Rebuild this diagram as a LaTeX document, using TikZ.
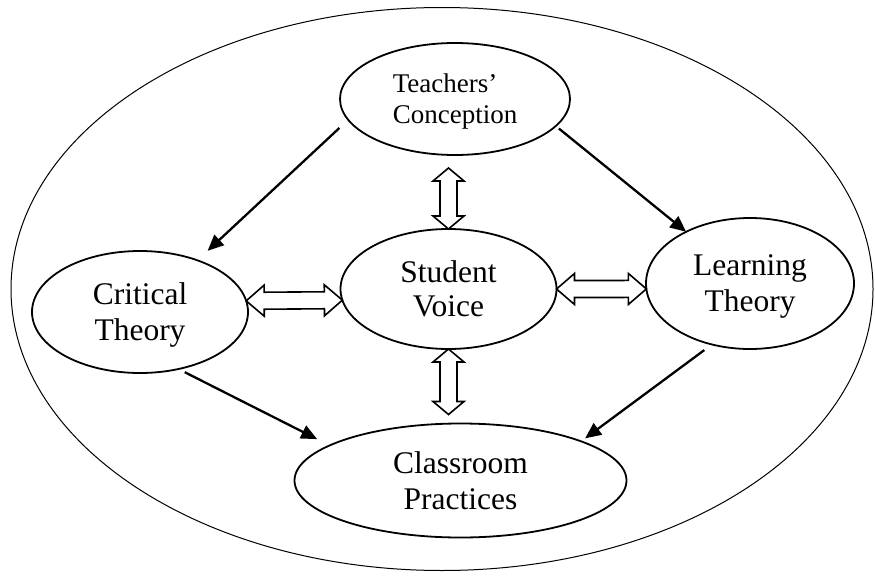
\documentclass[tikz,border=0pt]{standalone}
\usepackage{fontspec}
\setmainfont{Liberation Serif}
\usetikzlibrary{shapes.geometric,arrows.meta,calc}

\tikzset{
  bubble/.style 2 args={ellipse, draw, line width=1.8pt, inner sep=0pt, outer sep=0pt,
    minimum width=#1, minimum height=#2, align=center, text depth=0pt,
    font=\fontsize{31.5}{36}\selectfont},
  flow/.style={-{Triangle[length=16pt,width=14pt]}, line width=2.3pt},
  hollow/.style={draw, line width=1.6pt, fill=white, line join=miter},
}

% Hollow two-headed block arrow from #2 to #3; #1 is the head length
\newcommand\twowayarrow[3][18pt]{%
  \draw[hollow] let \p1=(#2), \p2=(#3),
      \n1={veclen(\x2-\x1,\y2-\y1)}, \n2={atan2(\y2-\y1,\x2-\x1)} in
    [shift={(\x1,\y1)}, rotate=\n2]
    (0pt,0pt) -- (#1,15.5pt) -- (#1,8.5pt) -- ({\n1-#1},8.5pt) -- ({\n1-#1},15.5pt)
    -- (\n1,0pt) -- ({\n1-#1},-15.5pt) -- ({\n1-#1},-8.5pt) -- (#1,-8.5pt)
    -- (#1,-15.5pt) -- cycle;
}

\begin{document}
\begin{tikzpicture}[x=1pt, y=-1pt]
  \useasboundingbox (0,0) rectangle (875,578);

  % surrounding frame
  \node[ellipse, draw, line width=1pt, inner sep=0pt, outer sep=0pt,
        minimum width=862pt, minimum height=563pt] (frame) at (442,289) {};

  % concepts
  \node[bubble={230pt}{112pt}, align=left, font=\fontsize{27}{31}\selectfont]
       (tc) at (455,99) {Teachers'\\Conception};
  \node[bubble={216pt}{122pt}] (ct) at (140,312) {Critical\\Theory};
  \node[bubble={216pt}{120pt}, font=\fontsize{31.5}{34}\selectfont]
       (sv) at (448.5,289) {Student\\Voice};
  \node[bubble={208pt}{131pt}] (lt) at (750,283.5) {Learning\\Theory};
  \node[bubble={332pt}{114pt}] (cp) at (460.5,480.5) {Classroom\\Practices};

  % one-way influences
  \draw[flow, shorten <=12pt, shorten >=14pt] (tc.191) -- (ct.42);
  \draw[flow, shorten <=4pt] (tc.345) -- (lt.141);
  \draw[flow, shorten <=7pt, shorten >=14pt] (ct.304) -- (cp.165);
  \draw[flow, shorten <=9.5pt, shorten >=5pt] (lt.238) -- (cp.18);

  % two-way exchanges with student voice
  \twowayarrow[13pt]{$(sv.north |- tc.south)+(0,13)$}{sv.north}
  \twowayarrow[13pt]{sv.south}{$(sv.south |- cp.north)+(0,-9)$}
  \twowayarrow{ct.6}{sv.186}
  \twowayarrow{sv.east}{lt.183}
\end{tikzpicture}
\end{document}
